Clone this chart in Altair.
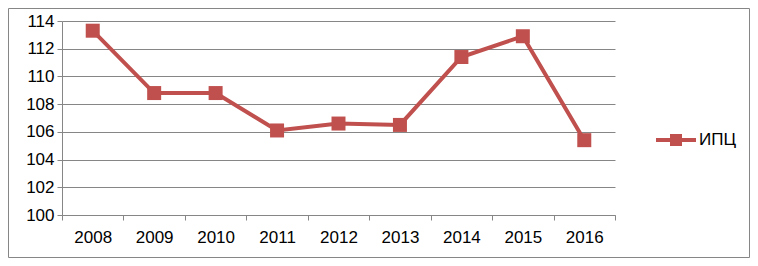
import altair as alt
import pandas as pd

years = ["2008", "2009", "2010", "2011", "2012", "2013", "2014", "2015", "2016"]
cpi = [113.3, 108.8, 108.8, 106.1, 106.6, 106.5, 111.4, 112.9, 105.4]
series = ["ИПЦ"] * len(years)
y_ticks = [100, 102, 104, 106, 108, 110, 112, 114]

df = pd.DataFrame({"year": years, "cpi": cpi, "series": series})

RED = "#C0504D"
FONT = "Liberation Sans"

x = alt.X("year:N", sort=years, title=None,
          scale=alt.Scale(paddingInner=0, paddingOuter=0),
          axis=alt.Axis(labelAngle=0, tickBand="extent", grid=False,
                        domainColor="#868686", tickColor="#868686",
                        tickSize=5, labelPadding=9, labelFontSize=17,
                        labelFont=FONT, labelColor="#000"))
y = alt.Y("cpi:Q", title=None,
          scale=alt.Scale(domain=[100, 114], nice=False, zero=False),
          axis=alt.Axis(values=y_ticks, grid=True, gridColor="#868686",
                        domainColor="#868686", tickColor="#868686",
                        tickSize=5, labelPadding=3, labelFontSize=17,
                        labelFont=FONT, labelColor="#000"))
color = alt.Color("series:N", title=None,
                  scale=alt.Scale(range=[RED]),
                  legend=alt.Legend(orient="none", legendX=594, legendY=99,
                                    symbolType="M-1,-0.1L1,-0.1L1,0.1L-1,0.1Z M-0.3,-0.3L0.3,-0.3L0.3,0.3L-0.3,0.3Z",
                                    symbolSize=1600, symbolStrokeWidth=0,
                                    symbolFillColor=RED, symbolOpacity=1,
                                    labelFontSize=17, labelFont=FONT,
                                    labelColor="#000", labelOffset=3))

base = alt.Chart(df)
line = base.mark_line(strokeWidth=4).encode(x=x, y=y, color=color)
pts = base.mark_point(shape="square", filled=True, size=196, opacity=1).encode(
    x=x, y=y, color=alt.Color("series:N", scale=alt.Scale(range=[RED]), legend=None))

frame = alt.Chart(pd.DataFrame({"a": [0]})).mark_rect(
    fill=None, stroke="#868686", strokeWidth=1).encode(
    x=alt.value(-53.5), x2=alt.value(687.5),
    y=alt.value(-12.5), y2=alt.value(236.5))

chart = alt.layer(frame, line, pts).properties(
    width=553, height=194,
    autosize=alt.AutoSizeParams(type="none"),
    padding={"left": 54, "top": 13, "right": 135, "bottom": 43},
).configure_view(stroke=None)

chart.save("out.html", embed_options={"renderer": "svg", "actions": False})
